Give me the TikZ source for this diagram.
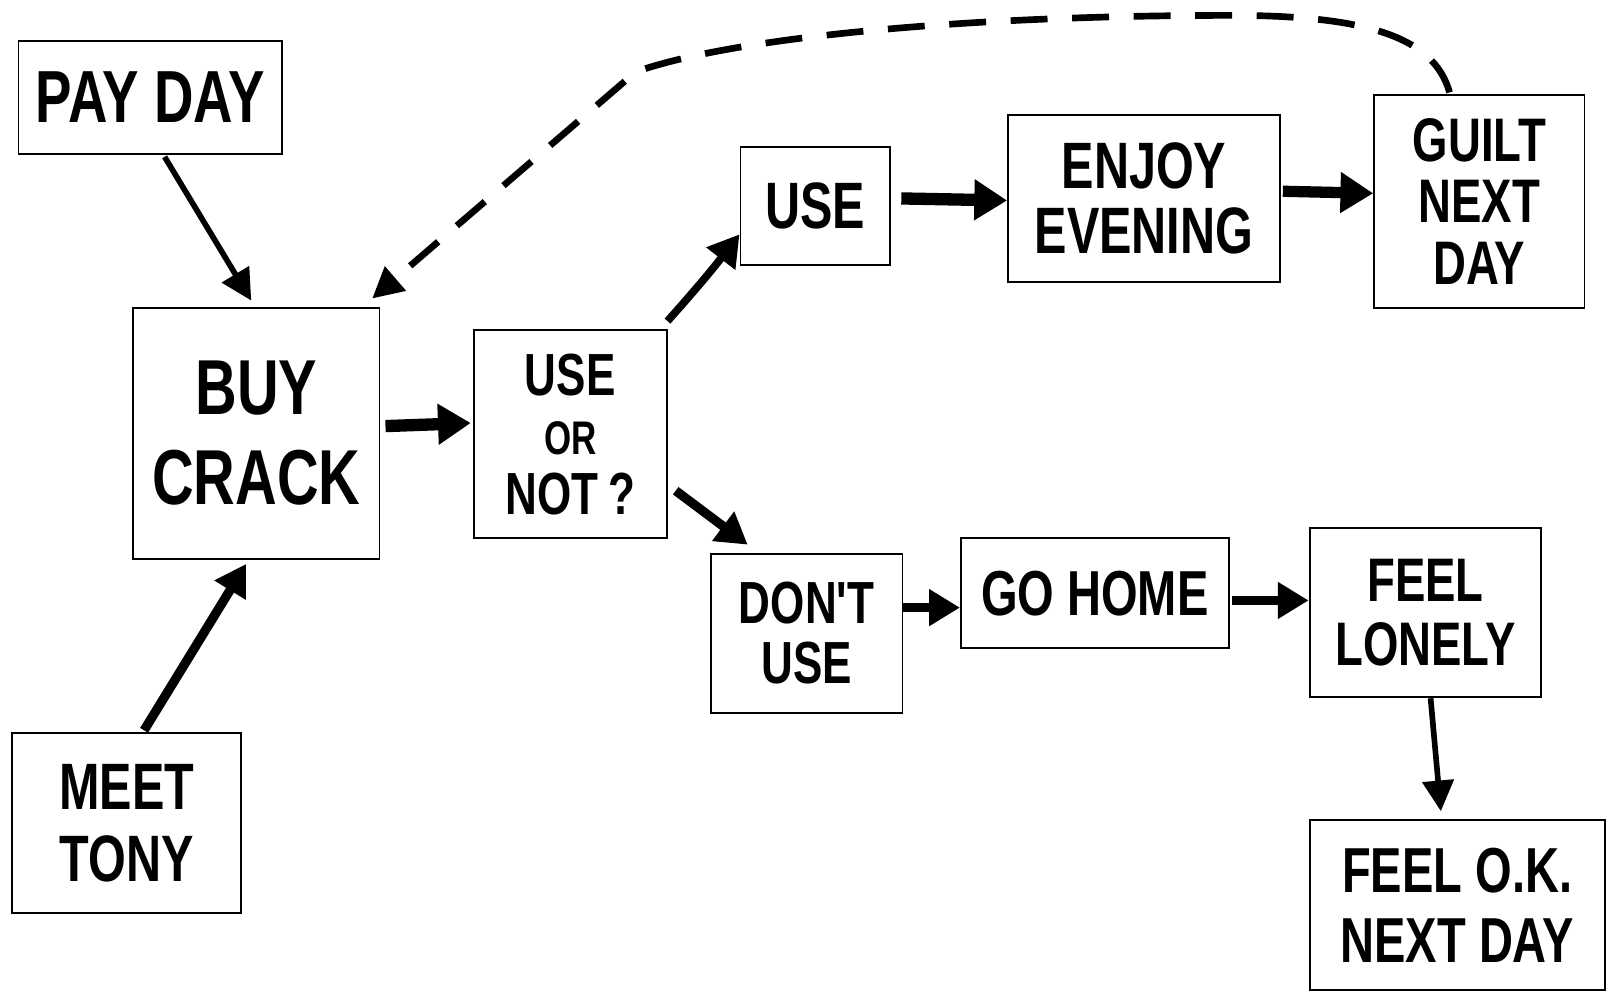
\documentclass[tikz,border=0pt]{standalone}
\usepackage{fontspec}
\newfontfamily\hand{Liberation Sans}[FakeStretch=0.74]
\usetikzlibrary{arrows.meta,calc}
\tikzset{
  box/.style={draw, line width=1.8pt, inner sep=0pt, align=center, font=\hand\bfseries},
  fs/.style={font=\hand\bfseries\fontsize{#1}{#1}\selectfont},
  thinarrow/.style={line width=5.5pt, -{Triangle[length=30pt,width=30pt]}},
  midarrow/.style={line width=9pt, -{Triangle[length=30pt,width=34pt]}},
  thickarrow/.style={line width=12pt, -{Triangle[length=32pt,width=38pt]}},
  loopback/.style={line width=6.5pt, dash pattern=on 36pt off 24pt, -{Triangle[length=30pt,width=30pt]}}
}
\begin{document}
\begin{tikzpicture}[x=1pt,y=-1pt]
\useasboundingbox (0,0) rectangle (1568,969);
\fill[white] (0,0) rectangle (1568,969);

\node[box, minimum width=257pt, minimum height=110pt, fs=72] (payday) at (146.5,95) {PAY DAY};
\node[box, minimum width=240pt, minimum height=245pt, fs=76] (buy) at (250,422.5) {BUY\\[12pt]CRACK};
\node[box, minimum width=223pt, minimum height=175pt, fs=64] (meet) at (123.5,802.5) {MEET\\[6pt]TONY};
\node[box, minimum width=188pt, minimum height=203pt, fs=58] (useornot) at (556,423.5)
  {USE\\[0pt]{\fontsize{46}{46}\selectfont OR}\\[0pt]NOT\,?};
\node[box, minimum width=146pt, minimum height=115pt, fs=64] (use) at (795,200.5) {USE};
\node[box, minimum width=265pt, minimum height=163pt, fs=64] (enjoy) at (1115.5,193.5) {ENJOY\\[0pt]EVENING};
\node[box, minimum width=205pt, minimum height=207pt, fs=60] (guilt) at (1442.5,196.5) {GUILT\\[0pt]NEXT\\[0pt]DAY};
\node[box, minimum width=187pt, minimum height=155pt, fs=58] (dont) at (786.5,617.5) {DON'T\\[0pt]USE};
\node[box, minimum width=261pt, minimum height=107pt, fs=62] (gohome) at (1067.5,578.5) {GO HOME};
\node[box, minimum width=226pt, minimum height=165pt, fs=60] (lonely) at (1390,597.5) {FEEL\\[2pt]LONELY};
\node[box, minimum width=288pt, minimum height=165pt, fs=62] (feelok) at (1421,882.5) {FEEL O.K.\\[6pt]NEXT DAY};

% connectors
\draw[thinarrow] ([xshift=14pt,yshift=-2pt]payday.south) -- ([xshift=-5pt,yshift=6pt]buy.north);
\draw[midarrow] ([xshift=17pt,yshift=2pt]meet.north) -- ([xshift=-10pt,yshift=-4pt]buy.south);
\draw[thickarrow] ([xshift=5pt,yshift=7pt]buy.east) -- ([xshift=-2pt,yshift=11pt]useornot.west);
\draw[midarrow, line width=7.5pt] ([yshift=8pt]useornot.north east) to[bend right=2] ([yshift=-28pt]use.west);
\draw[midarrow] ([xshift=8pt,yshift=-55pt]useornot.east) -- ([xshift=37pt,yshift=8pt]dont.north west);
\draw[thickarrow] ([xshift=10pt,yshift=7pt]use.east) -- ([xshift=0pt,yshift=-2pt]enjoy.west);
\draw[thickarrow, line width=11pt] ([xshift=2pt,yshift=7pt]enjoy.east) -- ([yshift=8pt]guilt.west);
\draw[midarrow] ([yshift=25pt]dont.east) -- ([yshift=25pt]dont.east -| gohome.west);
\draw[midarrow] ([xshift=2pt,yshift=-7pt]gohome.east) -- ([yshift=-7pt]gohome.east -| lonely.west);
\draw[thinarrow] ([xshift=5pt]lonely.south) -- ([xshift=-16pt,yshift=8pt]feelok.north);

\coordinate (c1) at (1200,15);
\draw[loopback] ([xshift=-29pt,yshift=2pt]guilt.north)
  .. controls (1398,35) and (1330,15) .. (c1)
  .. controls (950,15) and (720,35) .. (620,70)
  -- ([xshift=-8pt,yshift=8pt]buy.north east);
\end{tikzpicture}
\end{document}
